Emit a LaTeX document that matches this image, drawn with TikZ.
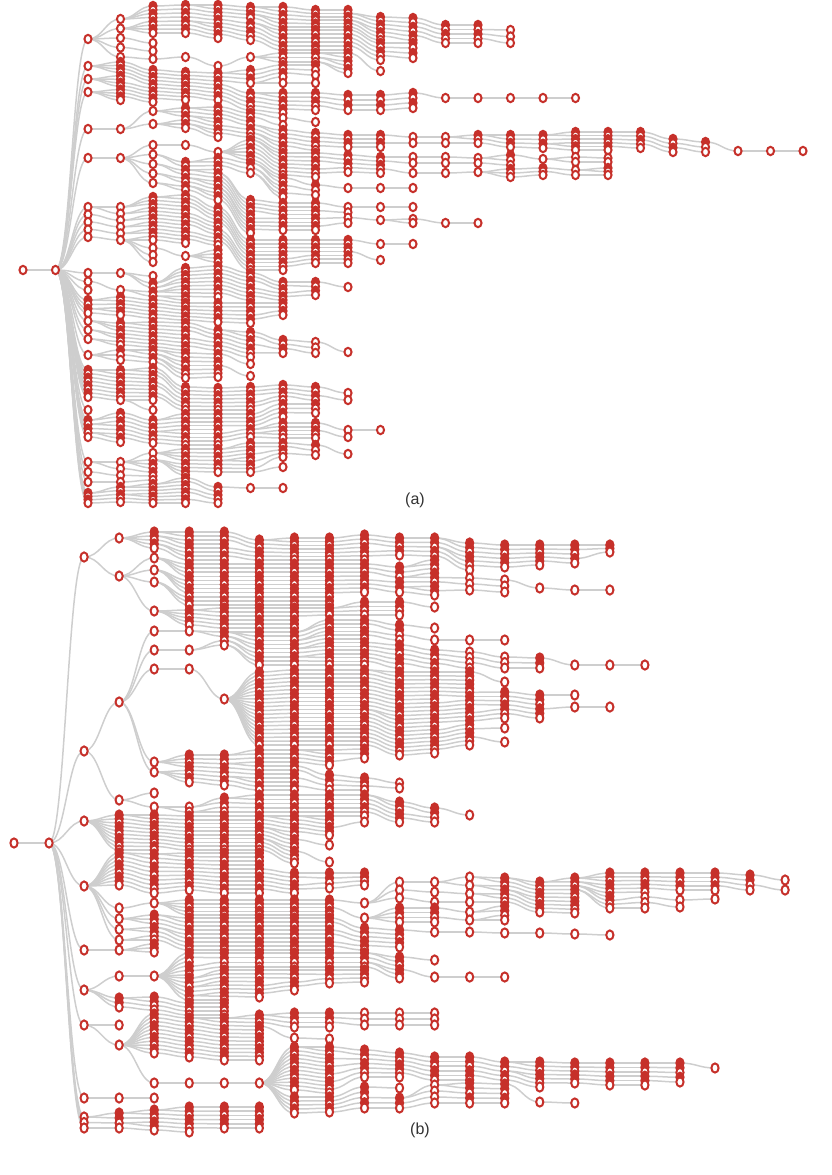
\documentclass[tikz,border=0pt]{standalone}
\usepackage{fontspec}
\newfontfamily\labfont{Liberation Sans}
\usetikzlibrary{shapes.geometric}
\definecolor{nodered}{RGB}{198,48,42}
\definecolor{edgegray}{RGB}{206,206,206}
\definecolor{labgray}{RGB}{50,50,50}
\def\nopar{-}
\tikzset{
  nda/.style={ellipse, draw, fill=white, minimum width=7.1pt, minimum height=8.3pt, inner sep=0pt},
  ndb/.style={ellipse, draw, fill=white, minimum width=7.2pt, minimum height=9.2pt, inner sep=0pt},
  solid/.style={fill=nodered},
  lab/.style={font=\labfont\fontsize{16}{18}\selectfont, text=labgray, inner sep=0pt}
}
% #1 x0, #2 column step, #3 list macro, #4 pass: 0 named points, 1 connectors, 2 visible nodes
\newcommand\mktree[4]{%
  \foreach \sn/\sc/\sya/\syb/\snn/\spn/\spa/\spb in #3{%
    \pgfmathsetmacro\sx{#1+#2*\sc}%
    \pgfmathsetmacro\ssp{(\syb-\sya)/max(\snn-1,1)}%
    \foreach \si in {1,...,\snn}{%
      \ifcase#4\relax
        \pgfmathsetmacro\sy{\sya+(\syb-\sya)*(\si-1)/max(\snn-1,1)}%
        \coordinate (\sn-\si) at (\sx,\sy);
      \or
        \ifx\spn\nopar\else
          \pgfmathtruncatemacro\sj{\spa+floor((\si-1)*(\spb-\spa+1)/\snn)}%
          \draw (\spn-\sj) .. controls +(\cdist,0) and +(-\cdist,0) .. (\sn-\si);
        \fi
      \or
        \pgfmathtruncatemacro\sfl{(\snn>=3)*(\ssp<5.3)*(\si<\snn)*(mod(\si,\whitek)!=0)}%
        \ifnum\sfl=1
          \node[nd,solid] (\sn-\si) at (\sn-\si) {};
        \else
          \node[nd] (\sn-\si) at (\sn-\si) {};
        \fi
      \fi
    }%
  }%
}
\def\lista{aR0/0/270/270/1/-/1/1,
aR1/1/270/270/1/aR0/1/1,
aB1/2/39/39/1/aR1/1/1,
aB2/2/66/92/3/aR1/1/1,
aB3/2/129/158/2/aR1/1/1,
aB4/2/207/237/5/aR1/1/1,
aB5/2/273/290/3/aR1/1/1,
aB6/2/300/313/4/aR1/1/1,
aB7/2/321/339/3/aR1/1/1,
aB8/2/355/355/1/aR1/1/1,
aB9/2/370/397/8/aR1/1/1,
aB10/2/410/410/1/aR1/1/1,
aB11/2/420/437/5/aR1/1/1,
aB12/2/462/482/3/aR1/1/1,
aB13/2/493/503/4/aR1/1/1,
aC1/3/19/57/5/aB1/1/1,
aC2/3/62/100/12/aB2/1/3,
aC3/3/129/158/2/aB3/1/2,
aC4/3/207/240/6/aB4/1/5,
aC5/3/273/290/2/aB5/1/3,
aC6/3/297/315/6/aB6/1/4,
aC7/3/323/345/7/aB7/1/3,
aC8/3/350/360/3/aB8/1/1,
aC9/3/370/400/9/aB9/1/8,
aC10/3/413/442/8/aB11/1/5,
aC11/3/462/482/4/aB12/1/3,
aC12/3/487/502/5/aB13/1/4,
aD1/4/6/33/8/aC1/1/2,
aD2/4/43/59/3/aC1/3/5,
aD3/4/70/102/10/aC2/1/12,
aD4/4/111/124/2/aC3/1/1,
aD5/4/145/183/5/aC3/2/2,
aD6/4/197/240/13/aC4/1/6,
aD7/4/248/262/3/aC4/6/6,
aD8/4/276/276/1/aC5/1/1,
aD9/4/283/296/4/aC5/1/2,
aD10/4/300/318/6/aC6/1/6,
aD11/4/322/347/8/aC7/1/7,
aD12/4/350/362/4/aC8/1/3,
aD13/4/368/400/10/aC9/1/9,
aD14/4/410/410/1/aC9/9/9,
aD15/4/420/443/7/aC10/1/8,
aD16/4/453/460/2/aC11/1/1,
aD17/4/464/480/5/aC11/1/4,
aD18/4/484/503/7/aC12/1/5,
aE1/5/5/33/8/aD1/1/8,
aE2/5/57/57/1/aD2/3/3,
aE3/5/72/100/9/aD3/1/10,
aE4/5/108/128/6/aD4/1/2,
aE5/5/145/145/1/aD5/1/1,
aE6/5/162/190/8/aD5/2/5,
aE7/5/195/243/14/aD6/1/13,
aE8/5/256/256/1/aD7/1/3,
aE9/5/268/300/10/aD9/1/4,
aE10/5/303/320/6/aD10/1/6,
aE11/5/323/350/8/aD11/1/8,
aE12/5/353/378/7/aD12/1/4,
aE13/5/387/410/7/aD13/1/10,
aE14/5/414/445/9/aD15/1/7,
aE15/5/449/475/8/aD16/1/2,
aE16/5/478/503/8/aD18/1/7,
aF1/6/5/38/10/aE1/1/8,
aF2/6/66/66/1/aE2/1/1,
aF3/6/73/100/8/aE3/1/9,
aF4/6/107/137/9/aE4/1/6,
aF5/6/152/152/1/aE5/1/1,
aF6/6/158/200/12/aE6/1/8,
aF7/6/208/245/11/aE7/1/14,
aF8/6/250/262/4/aE8/1/1,
aF9/6/266/297/9/aE9/1/10,
aF10/6/303/322/6/aE10/1/6,
aF11/6/330/350/6/aE11/1/8,
aF12/6/354/377/7/aE12/1/7,
aF13/6/388/410/7/aE13/1/7,
aF14/6/414/445/9/aE14/1/9,
aF15/6/449/472/7/aE15/1/8,
aF16/6/487/503/5/aE16/1/8,
aG1/7/7/18/4/aF1/1/4,
aG2/7/23/40/5/aF1/5/10,
aG3/7/57/57/1/aF2/1/1,
aG4/7/70/83/4/aF3/1/3,
aG5/7/93/110/5/aF3/4/8,
aG6/7/113/137/7/aF4/1/9,
aG7/7/140/160/6/aF5/1/1,
aG8/7/163/173/3/aF6/1/4,
aG9/7/200/233/10/aF6/5/12,
aG10/7/240/270/9/aF7/1/11,
aG11/7/273/300/8/aF9/1/9,
aG12/7/303/323/6/aF10/1/6,
aG13/7/332/357/7/aF11/1/6,
aG14/7/364/376/2/aF12/1/7,
aG15/7/387/410/7/aF13/1/7,
aG16/7/414/437/7/aF14/1/9,
aG17/7/443/472/9/aF15/1/7,
aG18/7/488/488/1/aF16/1/5,
aH1/8/7/27/6/aG1/1/4,
aH2/8/30/50/6/aG2/1/5,
aH3/8/53/62/3/aG3/1/1,
aH4/8/65/77/4/aG4/1/4,
aH5/8/83/83/1/aG4/4/4,
aH6/8/93/113/6/aG5/1/5,
aH7/8/118/125/2/aG6/1/3,
aH8/8/130/150/6/aG6/4/7,
aH9/8/153/175/7/aG7/1/6,
aH10/8/178/197/6/aG8/1/3,
aH11/8/203/230/8/aG9/1/10,
aH12/8/240/270/9/aG10/1/9,
aH13/8/282/300/6/aG11/1/8,
aH14/8/303/315/4/aG12/1/6,
aH15/8/340/353/4/aG13/1/7,
aH16/8/385/400/5/aG15/1/7,
aH17/8/404/417/4/aG16/1/4,
aH18/8/423/438/5/aG16/5/7,
aH19/8/443/457/5/aG17/1/9,
aH20/8/467/467/1/aG17/9/9,
aH21/8/488/488/1/aG18/1/1,
aI1/9/10/27/6/aH1/1/6,
aI2/9/30/50/6/aH2/1/6,
aI3/9/53/62/3/aH3/1/3,
aI4/9/65/75/3/aH4/1/4,
aI5/9/83/83/1/aH5/1/1,
aI6/9/93/110/5/aH6/1/6,
aI7/9/122/122/1/aH7/1/2,
aI8/9/133/150/5/aH8/1/6,
aI9/9/153/177/7/aH9/1/7,
aI10/9/185/195/3/aH10/1/6,
aI11/9/203/230/8/aH11/1/8,
aI12/9/240/263/7/aH12/1/9,
aI13/9/282/295/4/aH13/1/6,
aI14/9/342/353/3/aH15/1/4,
aI15/9/387/400/4/aH16/1/5,
aI16/9/404/413/3/aH17/1/4,
aI17/9/423/438/5/aH18/1/5,
aI18/9/445/455/3/aH19/1/5,
aJ1/10/10/27/6/aI1/1/6,
aJ2/10/30/50/6/aI2/1/6,
aJ3/10/53/73/6/aI3/1/3,
aJ4/10/95/110/4/aI6/1/5,
aJ5/10/135/147/4/aI8/1/5,
aJ6/10/155/172/5/aI9/1/7,
aJ7/10/188/188/1/aI10/1/3,
aJ8/10/207/223/4/aI11/1/8,
aJ9/10/240/263/7/aI12/1/7,
aJ10/10/287/287/1/aI13/1/4,
aJ11/10/352/352/1/aI14/1/3,
aJ12/10/393/400/2/aI15/1/4,
aJ13/10/430/437/2/aI17/1/5,
aJ14/10/454/454/1/aI18/1/3,
aK1/11/17/40/7/aJ1/2/6,
aK2/11/43/60/5/aJ2/1/6,
aK3/11/71/71/1/aJ3/1/6,
aK4/11/95/110/4/aJ4/1/4,
aK5/11/135/147/4/aJ5/1/4,
aK6/11/157/173/5/aJ6/1/5,
aK7/11/188/188/1/aJ7/1/1,
aK8/11/207/220/2/aJ8/1/4,
aK9/11/244/260/2/aJ9/1/7,
aK10/11/430/430/1/aJ13/1/2,
aL1/12/18/40/6/aK1/1/7,
aL2/12/43/58/4/aK2/1/5,
aL3/12/93/108/4/aK4/1/4,
aL4/12/137/143/2/aK5/1/4,
aL5/12/157/163/2/aK6/1/3,
aL6/12/173/173/1/aK6/4/5,
aL7/12/188/188/1/aK7/1/1,
aL8/12/207/207/1/aK8/1/1,
aL9/12/219/223/2/aK8/2/2,
aL10/12/244/244/1/aK9/1/1,
aM1/13/25/43/5/aL1/1/6,
aM2/13/98/98/1/aL3/1/4,
aM3/13/137/143/2/aL4/1/2,
aM4/13/157/163/2/aL5/1/2,
aM5/13/173/173/1/aL6/1/1,
aM6/13/223/223/1/aL9/1/2,
aN1/14/25/43/5/aM1/1/5,
aN2/14/98/98/1/aM2/1/1,
aN3/14/135/143/3/aM3/1/2,
aN4/14/158/163/2/aM4/1/2,
aN5/14/172/172/1/aM5/1/1,
aN6/14/223/223/1/aM6/1/1,
aO1/15/30/43/3/aN1/2/5,
aO2/15/98/98/1/aN2/1/1,
aO3/15/135/147/4/aN3/1/3,
aO4/15/155/165/3/aN4/1/2,
aO5/15/169/177/3/aN5/1/1,
aP1/16/98/98/1/aO2/1/1,
aP2/16/135/148/4/aO3/1/4,
aP3/16/159/159/1/aO4/1/3,
aP4/16/168/175/3/aO5/1/3,
aQ1/17/98/98/1/aP1/1/1,
aQ2/17/132/150/6/aP2/1/4,
aQ3/17/157/162/2/aP3/1/1,
aQ4/17/170/175/2/aP4/1/3,
aS1/18/132/150/6/aQ2/1/6,
aS2/18/158/162/2/aQ3/1/2,
aS3/18/168/175/3/aQ4/1/2,
aT1/19/132/148/5/aS1/1/6,
aU1/20/139/152/4/aT1/1/5,
aV1/21/142/152/3/aU1/1/4,
aW1/22/151/151/1/aV1/1/3,
aX1/23/151/151/1/aW1/1/1,
aY1/24/151/151/1/aX1/1/1}
\def\listb{bR0/0/843/843/1/-/1/1,
bR1/1/843/843/1/bR0/1/1,
bB1/2/557/557/1/bR1/1/1,
bB2/2/751/751/1/bR1/1/1,
bB3/2/821/821/1/bR1/1/1,
bB4/2/886/886/1/bR1/1/1,
bB5/2/950/950/1/bR1/1/1,
bB6/2/990/990/1/bR1/1/1,
bB7/2/1025/1025/1/bR1/1/1,
bB8/2/1098/1098/1/bR1/1/1,
bB9/2/1117/1128/3/bR1/1/1,
bC1/3/538/576/2/bB1/1/1,
bC2/3/702/702/1/bB2/1/1,
bC3/3/800/800/1/bB2/1/1,
bC4/3/815/850/10/bB3/1/1,
bC5/3/853/885/9/bB4/1/1,
bC6/3/908/940/4/bB4/1/1,
bC7/3/950/950/1/bB5/1/1,
bC8/3/976/976/1/bB6/1/1,
bC9/3/998/1007/3/bB6/1/1,
bC10/3/1025/1045/2/bB7/1/1,
bC11/3/1098/1098/1/bB8/1/1,
bC12/3/1113/1128/4/bB9/1/3,
bD1/4/532/548/5/bC1/1/1,
bD2/4/558/582/3/bC1/2/2,
bD3/4/611/611/1/bC1/2/2,
bD4/4/631/669/3/bC2/1/1,
bD5/4/762/772/2/bC2/1/1,
bD6/4/793/807/2/bC3/1/1,
bD7/4/815/850/11/bC4/1/10,
bD8/4/854/893/10/bC5/1/9,
bD9/4/903/903/1/bC6/1/1,
bD10/4/915/940/7/bC6/2/4,
bD11/4/944/952/3/bC7/1/1,
bD12/4/976/976/1/bC8/1/1,
bD13/4/997/1010/4/bC9/1/3,
bD14/4/1014/1053/11/bC10/2/2,
bD15/4/1083/1083/1/bC10/2/2,
bD16/4/1098/1098/1/bC11/1/1,
bD17/4/1110/1130/6/bC12/1/4,
bE1/5/532/560/8/bD1/1/5,
bE2/5/564/605/11/bD2/1/3,
bE3/5/610/625/5/bD3/1/1,
bE4/5/631/650/2/bD4/1/2,
bE5/5/669/669/1/bD4/3/3,
bE6/5/755/782/8/bD5/1/2,
bE7/5/807/812/2/bD6/2/2,
bE8/5/816/850/10/bD7/1/11,
bE9/5/853/890/11/bD8/1/10,
bE10/5/900/915/5/bD9/1/1,
bE11/5/918/950/9/bD10/1/7,
bE12/5/953/975/6/bD12/1/1,
bE13/5/978/1000/6/bD12/1/1,
bE14/5/1003/1015/4/bD13/1/4,
bE15/5/1018/1057/11/bD14/1/11,
bE16/5/1083/1083/1/bD15/1/1,
bE17/5/1107/1132/7/bD17/1/6,
bF1/6/532/560/8/bE1/1/8,
bF2/6/564/605/11/bE2/1/11,
bF3/6/608/628/6/bE3/1/5,
bF4/6/632/645/4/bE4/1/2,
bF5/6/699/699/1/bE5/1/1,
bF6/6/755/785/8/bE6/1/8,
bF7/6/798/812/4/bE7/1/2,
bF8/6/816/850/10/bE8/1/10,
bF9/6/853/893/11/bE9/1/11,
bF10/6/900/915/5/bE10/1/5,
bF11/6/918/950/9/bE11/1/9,
bF12/6/953/967/4/bE12/1/6,
bF13/6/970/1000/9/bE13/1/6,
bF14/6/1003/1015/4/bE14/1/4,
bF15/6/1018/1060/12/bE15/1/11,
bF16/6/1083/1083/1/bE16/1/1,
bF17/6/1107/1128/6/bE17/1/7,
bG1/7/540/560/6/bF1/1/8,
bG2/7/564/605/11/bF2/1/11,
bG3/7/608/628/6/bF3/1/6,
bG4/7/632/665/9/bF4/1/4,
bG5/7/672/745/20/bF5/1/1,
bG7/7/750/790/11/bF6/1/8,
bG8/7/795/812/5/bF7/1/4,
bG9/7/816/850/10/bF8/1/10,
bG10/7/853/893/11/bF9/1/11,
bG11/7/900/915/5/bF10/1/5,
bG12/7/918/950/9/bF11/1/9,
bG13/7/953/967/4/bF12/1/4,
bG14/7/970/997/8/bF13/1/9,
bG15/7/1015/1060/13/bF15/1/12,
bG16/7/1083/1083/1/bF16/1/1,
bG17/7/1107/1128/6/bF17/1/6,
bH1/8/538/560/7/bG1/1/6,
bH2/8/564/605/11/bG2/1/11,
bH3/8/608/628/6/bG3/1/6,
bH4/8/632/665/9/bG4/1/9,
bH5/8/670/745/20/bG5/1/20,
bH6/8/750/790/11/bG7/1/11,
bH7/8/795/812/5/bG8/1/5,
bH8/8/816/863/13/bG9/1/10,
bH9/8/873/893/6/bG10/5/11,
bH10/8/900/915/5/bG11/1/5,
bH11/8/918/950/9/bG12/1/9,
bH12/8/953/967/4/bG13/1/4,
bH13/8/970/990/6/bG14/1/8,
bH14/8/1013/1027/4/bG15/1/3,
bH15/8/1038/1038/1/bG15/4/5,
bH16/8/1047/1090/12/bG16/1/1,
bH17/8/1097/1113/5/bG16/1/1,
bI1/9/538/560/7/bH1/1/7,
bI2/9/564/605/11/bH2/1/11,
bI3/9/608/615/3/bH3/1/3,
bI4/9/620/665/13/bH4/1/9,
bI5/9/670/745/20/bH5/1/20,
bI6/9/750/765/5/bH6/1/4,
bI7/9/775/790/4/bH6/5/11,
bI8/9/795/812/5/bH7/1/5,
bI9/9/816/835/6/bH8/1/5,
bI10/9/845/862/2/bH8/7/13,
bI11/9/873/888/4/bH9/1/6,
bI12/9/900/915/5/bH10/1/5,
bI13/9/918/950/9/bH11/1/9,
bI14/9/953/967/4/bH12/1/4,
bI15/9/970/983/4/bH13/1/6,
bI16/9/1013/1027/4/bH14/1/4,
bI17/9/1039/1039/1/bH15/1/1,
bI18/9/1047/1093/13/bH16/1/12,
bI19/9/1097/1112/5/bH17/1/5,
bJ1/10/535/560/7/bI1/1/7,
bJ2/10/564/592/8/bI2/1/8,
bJ3/10/602/615/4/bI3/1/3,
bJ4/10/620/665/13/bI4/1/13,
bJ5/10/670/745/20/bI5/1/20,
bJ6/10/749/758/3/bI6/1/5,
bJ7/10/778/790/4/bI7/1/4,
bJ8/10/795/812/5/bI8/1/5,
bJ9/10/816/822/2/bI9/1/6,
bJ10/10/873/885/4/bI11/1/4,
bJ11/10/903/918/2/bI12/1/5,
bJ12/10/928/950/6/bI13/1/9,
bJ13/10/953/967/4/bI14/1/4,
bJ14/10/970/982/4/bI15/1/4,
bJ15/10/1013/1025/3/bI16/1/4,
bJ16/10/1050/1077/7/bI18/1/13,
bJ17/10/1087/1108/5/bI19/1/5,
bK1/11/538/555/5/bJ1/1/7,
bK2/11/567/592/6/bJ2/1/8,
bK3/11/602/615/4/bJ3/1/4,
bK4/11/625/640/4/bJ4/1/6,
bK5/11/645/668/6/bJ4/7/13,
bK6/11/672/755/22/bJ5/1/20,
bK7/11/783/788/2/bJ7/1/4,
bK8/11/802/822/6/bJ8/1/5,
bK9/11/882/898/3/bJ11/1/1,
bK10/11/908/922/4/bJ11/2/2,
bK11/11/930/947/5/bJ12/1/6,
bK12/11/957/978/6/bJ13/1/4,
bK16/11/1013/1025/3/bJ15/1/3,
bK13/11/1053/1077/7/bJ16/1/7,
bK14/11/1088/1088/1/bJ17/1/2,
bK15/11/1098/1108/3/bJ17/3/5,
bL1/12/538/556/5/bK1/1/5,
bL2/12/560/595/9/bK2/1/6,
bL3/12/607/607/1/bK3/1/4,
bL4/12/628/640/2/bK4/1/4,
bL5/12/650/668/5/bK5/1/6,
bL6/12/672/753/22/bK6/1/22,
bL7/12/808/822/4/bK8/1/6,
bL8/12/882/902/3/bK9/1/3,
bL9/12/908/922/4/bK10/1/4,
bL10/12/932/932/1/bK11/1/5,
bL11/12/960/977/2/bK12/1/6,
bL12/12/1013/1025/3/bK16/1/3,
bL13/12/1057/1080/6/bK13/1/7,
bL14/12/1085/1103/4/bK15/1/3,
bM1/13/543/570/7/bL1/1/5,
bM2/13/578/590/3/bL2/5/9,
bM3/13/640/640/1/bL4/2/2,
bM4/13/652/668/4/bL5/1/5,
bM5/13/672/745/19/bL6/1/22,
bM6/13/815/815/1/bL7/1/4,
bM7/13/877/902/4/bL8/1/3,
bM8/13/912/920/2/bL9/1/4,
bM9/13/932/932/1/bL10/1/1,
bM10/13/977/977/1/bL11/2/2,
bM11/13/1057/1080/6/bL13/1/6,
bM12/13/1083/1103/5/bL14/1/4,
bN1/14/545/567/6/bM1/1/7,
bN2/14/580/592/3/bM2/1/3,
bN3/14/640/640/1/bM3/1/1,
bN4/14/657/668/3/bM4/1/4,
bN5/14/682/682/1/bM5/1/5,
bN6/14/692/718/7/bM5/6/14,
bN7/14/728/742/2/bM5/15/19,
bN8/14/878/902/7/bM7/1/4,
bN9/14/906/920/4/bM8/1/2,
bN10/14/933/933/1/bM9/1/1,
bN11/14/977/977/1/bM10/1/1,
bN12/14/1062/1080/5/bM11/1/6,
bN13/14/1084/1103/5/bM12/1/5,
bO1/15/545/565/6/bN1/1/6,
bO2/15/588/588/1/bN2/1/3,
bO3/15/658/668/3/bN4/1/3,
bO4/15/695/718/6/bN6/1/7,
bO5/15/882/912/9/bN8/1/7,
bO6/15/933/933/1/bN10/1/1,
bO7/15/1062/1087/7/bN12/1/5,
bO8/15/1102/1102/1/bN13/1/5,
bP1/16/545/563/5/bO1/1/6,
bP2/16/590/590/1/bO2/1/1,
bP3/16/665/665/1/bO3/1/3,
bP4/16/695/707/2/bO4/1/6,
bP5/16/878/913/10/bO5/1/9,
bP6/16/934/934/1/bO6/1/1,
bP7/16/1063/1083/6/bO7/1/7,
bP8/16/1103/1103/1/bO8/1/1,
bQ1/17/545/552/3/bP1/1/5,
bQ2/17/590/590/1/bP2/1/1,
bQ3/17/665/665/1/bP3/1/1,
bQ4/17/707/707/1/bP4/2/2,
bQ5/17/873/908/10/bP5/1/4,
bQ6/17/935/935/1/bP6/1/1,
bQ7/17/1063/1085/6/bP7/1/6,
bS1/18/665/665/1/bQ3/1/1,
bS2/18/873/892/6/bQ5/1/7,
bS3/18/897/908/3/bQ5/8/10,
bS4/18/1063/1085/6/bQ7/1/6,
bT1/19/873/890/5/bS2/1/6,
bT2/19/900/907/2/bS3/1/3,
bT3/19/1063/1082/5/bS4/1/6,
bU1/20/873/890/5/bT1/1/5,
bU2/20/899/899/1/bT2/1/2,
bU3/20/1068/1068/1/bT3/1/5,
bV1/21/875/890/4/bU1/1/5,
bW1/22/880/890/2/bV1/1/4}
\begin{document}
\begin{tikzpicture}[x=1pt,y=-1pt]
\useasboundingbox (0,0) rectangle (831,1175);
\mktree{23}{32.5}{\lista}{0}
\mktree{14}{35.05}{\listb}{0}
\begin{scope}[color=edgegray, line width=1.5pt]
\def\cdist{15}
\mktree{23}{32.5}{\lista}{1}
\def\cdist{16}
\mktree{14}{35.05}{\listb}{1}
\end{scope}
\begin{scope}[color=nodered, line width=2pt]
\tikzset{nd/.style={nda}}
\def\whitek{2}
\mktree{23}{32.5}{\lista}{2}
\tikzset{nd/.style={ndb}}
\def\whitek{3}
\mktree{14}{35.05}{\listb}{2}
\end{scope}
\node[lab] (capa) at (415,500) {(a)};
\node[lab] (capb) at (420,1130) {(b)};
\end{tikzpicture}
\end{document}
